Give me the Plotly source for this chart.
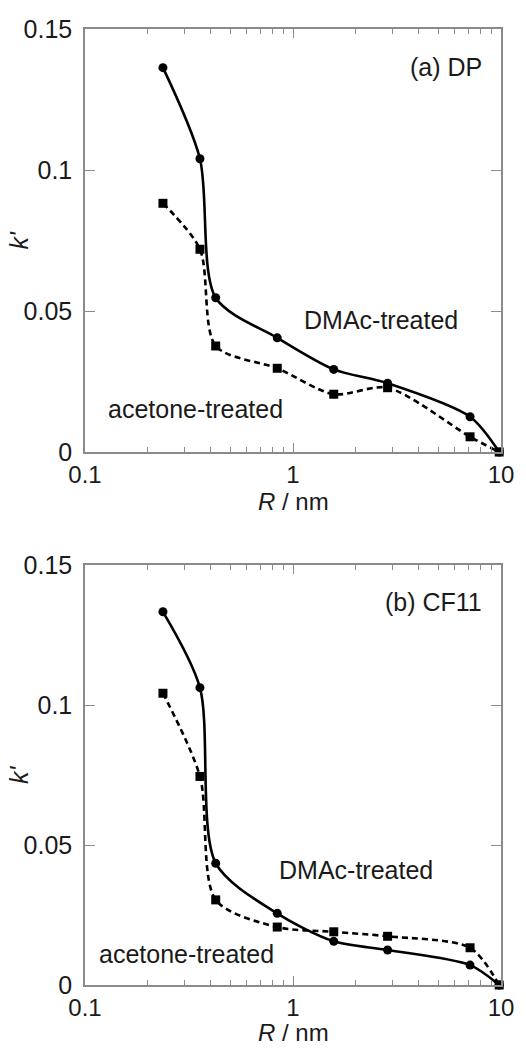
import plotly.graph_objects as go

# Data
R = [0.237, 0.357, 0.425, 0.84, 1.57, 2.85, 7.1, 9.8]
dp_dmac = [0.1363, 0.104, 0.0547, 0.0405, 0.0293, 0.0244, 0.0125, 0.0]
dp_acetone = [0.0882, 0.0719, 0.0376, 0.0297, 0.0205, 0.0228, 0.0054, 0.0]
cf_dmac = [0.1333, 0.1062, 0.0435, 0.0256, 0.0156, 0.0125, 0.0071, 0.0]
cf_acetone = [0.1042, 0.0745, 0.0304, 0.0207, 0.019, 0.0174, 0.0133, 0.0]

panel_labels = ["(a) DP", "(b) CF11"]
series_labels = ["DMAc-treated", "acetone-treated"]
y_tickvals = [0, 0.05, 0.1, 0.15]
y_ticktext = ["0", "0.05", "0.1", "0.15"]
x_tickvals = [0.1, 1, 10]
x_ticktext = ["0.1", "1", "10"]
x_minor = [0.2, 0.3, 0.4, 0.5, 0.6, 0.7, 0.8, 0.9, 2, 3, 4, 5, 6, 7, 8, 9]

FONT = "Liberation Sans, Arial, sans-serif"
AXC = "#8a8a8a"
FS = 25
TFS = 24

fig = go.Figure()

def add_panel(idx, dmac, acet):
    xa = "x" if idx == 1 else "x2"
    ya = "y" if idx == 1 else "y2"
    fig.add_trace(go.Scatter(x=R, y=dmac, mode="lines+markers", xaxis=xa, yaxis=ya,
                             line=dict(color="black", width=2.6, shape="spline", smoothing=0.8),
                             marker=dict(symbol="circle", size=9, color="black"),
                             showlegend=False, cliponaxis=False))
    fig.add_trace(go.Scatter(x=R, y=acet, mode="lines+markers", xaxis=xa, yaxis=ya,
                             line=dict(color="black", width=2.6, shape="spline", smoothing=0.8,
                                       dash="6px,4px"),
                             marker=dict(symbol="square", size=9, color="black"),
                             showlegend=False, cliponaxis=False))

add_panel(1, dp_dmac, dp_acetone)
add_panel(2, cf_dmac, cf_acetone)

xcommon = dict(type="log", range=[-1, 1], showline=True, linecolor=AXC, linewidth=1.5,
               mirror="ticks", ticks="inside", ticklen=9, tickwidth=1.2, tickcolor=AXC,
               tickvals=x_tickvals, ticktext=x_ticktext, showgrid=False, zeroline=False,
               ticklabelstandoff=0,
               tickfont=dict(family=FONT, size=TFS, color="#1a1a1a"),
               minor=dict(tickvals=x_minor, ticks="inside", ticklen=5, tickwidth=1.2,
                          tickcolor=AXC, showgrid=False))
ycommon = dict(range=[0, 0.15], showline=True, linecolor=AXC, linewidth=1.5,
               mirror="ticks", ticks="inside", ticklen=10, tickwidth=1.2, tickcolor=AXC,
               tickvals=y_tickvals, ticktext=y_ticktext, showgrid=False, zeroline=False,
               ticklabelstandoff=6,
               tickfont=dict(family=FONT, size=FS, color="#1a1a1a"))

fig.update_layout(
    width=526, height=1048,
    margin=dict(l=85, r=17, t=29, b=63),
    paper_bgcolor="white", plot_bgcolor="white",
    xaxis=dict(**xcommon, anchor="y", domain=[0, 1]),
    yaxis=dict(**ycommon, anchor="x", domain=[0.5575, 1]),
    xaxis2=dict(**xcommon, anchor="y2", domain=[0, 1]),
    yaxis2=dict(**ycommon, anchor="x2", domain=[0, 0.4393]),
)

ann = []
txtfont = dict(family=FONT, size=FS, color="#1a1a1a")
tfont = dict(family=FONT, size=TFS, color="#1a1a1a")
# panel labels
ann.append(dict(x=0.96, y=0.91, xref="x domain", yref="y domain", text=panel_labels[0],
                showarrow=False, xanchor="right", yanchor="middle", font=txtfont))
ann.append(dict(x=0.96, y=0.913, xref="x2 domain", yref="y2 domain", text=panel_labels[1],
                showarrow=False, xanchor="right", yanchor="middle", font=txtfont))
# series labels
ann.append(dict(x=0.712, y=0.312, xref="x domain", yref="y domain", text=series_labels[0],
                showarrow=False, xanchor="center", yanchor="middle", font=txtfont))
ann.append(dict(x=0.265, y=0.102, xref="x domain", yref="y domain", text=series_labels[1],
                showarrow=False, xanchor="center", yanchor="middle", font=txtfont))
ann.append(dict(x=0.651, y=0.274, xref="x2 domain", yref="y2 domain", text=series_labels[0],
                showarrow=False, xanchor="center", yanchor="middle", font=txtfont))
ann.append(dict(x=0.243, y=0.075, xref="x2 domain", yref="y2 domain", text=series_labels[1],
                showarrow=False, xanchor="center", yanchor="middle", font=txtfont))
# axis titles
ann.append(dict(x=0.5, y=0, xref="x domain", yref="y domain", yshift=-49, text="<i>R</i> / nm",
                showarrow=False, xanchor="center", yanchor="middle", font=tfont))
ann.append(dict(x=0.5, y=0, xref="x2 domain", yref="paper", yshift=-62, text="<i>R</i> / nm",
                showarrow=False, xanchor="center", yanchor="bottom", font=tfont, borderpad=0))
for xd, yd in [("x domain", "y domain"), ("x2 domain", "y2 domain")]:
    ann.append(dict(x=0, y=0.5, xref=xd, yref=yd, xshift=-66, text="<i>k'</i>", textangle=-90,
                    showarrow=False, xanchor="center", yanchor="middle", font=txtfont))
fig.update_layout(annotations=ann)

fig.write_html("out.html")
